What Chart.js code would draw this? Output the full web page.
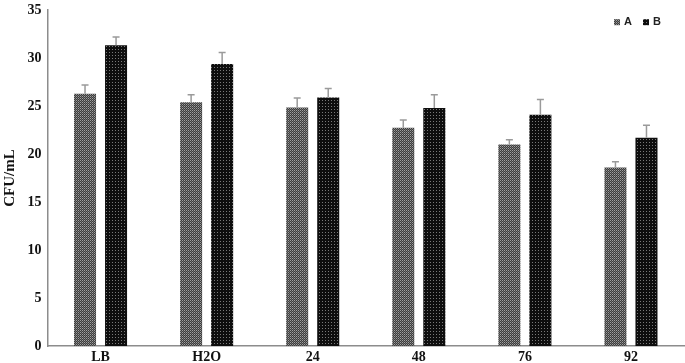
<!DOCTYPE html>
<html>
<head>
<meta charset="utf-8">
<script src="https://cdn.jsdelivr.net/npm/chart.js@4.4.0/dist/chart.umd.min.js"></script>
<style>
  body { margin: 0; background: #fff; }
  canvas { display: block; }
</style>
</head>
<body>
<canvas id="grafico" width="685" height="363"></canvas>
<script>
// Datos
const categorias = ['LB', 'H2O', '24', '48', '76', '92'];
const valoresA = [26.3, 25.4, 24.85, 22.75, 21.0, 18.6];
const valoresB = [31.35, 29.4, 25.9, 24.8, 24.1, 21.7];
const errorA = [0.9, 0.8, 1.0, 0.8, 0.5, 0.6];
const errorB = [0.85, 1.2, 0.95, 1.4, 1.6, 1.3];
const ticksY = [0, 5, 10, 15, 20, 25, 30, 35];

// Tramas de puntos para las barras
function crearTrama(tam, fondo, puntos) {
    const c = document.createElement('canvas');
    c.width = tam;
    c.height = tam;
    const g = c.getContext('2d');
    g.fillStyle = fondo;
    g.fillRect(0, 0, tam, tam);
    puntos.forEach(function(p) {
        g.fillStyle = p[2];
        g.fillRect(p[0], p[1], 1, 1);
    });
    return g.createPattern(c, 'repeat');
}

const tramaA = crearTrama(2, '#3c3c3c', [[0, 0, '#a0a0a0'], [1, 1, '#707070']]);
const tramaB = crearTrama(3, '#0e0e0e', [[1, 1, '#7a7a7a']]);

// Barras de error (solo hacia arriba)
const barrasError = {
    id: 'barrasError',
    afterDatasetsDraw: function(chart) {
        const ctx = chart.ctx;
        const y = chart.scales.y;
        chart.data.datasets.forEach(function(ds, i) {
            const meta = chart.getDatasetMeta(i);
            meta.data.forEach(function(barra, j) {
                const tope = y.getPixelForValue(ds.data[j] + ds.errores[j]);
                ctx.save();
                ctx.strokeStyle = '#9a9a9a';
                ctx.lineWidth = 1.5;
                ctx.beginPath();
                ctx.moveTo(barra.x, barra.y);
                ctx.lineTo(barra.x, tope);
                ctx.moveTo(barra.x - 3.5, tope);
                ctx.lineTo(barra.x + 3.5, tope);
                ctx.stroke();
                ctx.restore();
            });
        });
    }
};

// Leyenda pequeña arriba a la derecha, dentro del área del gráfico
const leyenda = {
    id: 'leyenda',
    afterDraw: function(chart) {
        const ctx = chart.ctx;
        const area = chart.chartArea;
        let x = area.right - 70;
        const y = area.top + 12;
        ctx.save();
        ctx.font = 'bold 11px "Liberation Sans"';
        ctx.textBaseline = 'middle';
        chart.data.datasets.forEach(function(ds) {
            ctx.fillStyle = ds.backgroundColor;
            ctx.fillRect(x, y - 3, 6, 6);
            ctx.fillStyle = '#222';
            ctx.fillText(ds.label, x + 10, y);
            x += 29;
        });
        ctx.restore();
    }
};

new Chart(document.getElementById('grafico').getContext('2d'), {
    type: 'bar',
    data: {
        labels: categorias,
        datasets: [{
            label: 'A',
            data: valoresA,
            errores: errorA,
            backgroundColor: tramaA,
            borderWidth: 0,
            barPercentage: 0.71,
            categoryPercentage: 0.585
        }, {
            label: 'B',
            data: valoresB,
            errores: errorB,
            backgroundColor: tramaB,
            borderWidth: 0,
            barPercentage: 0.71,
            categoryPercentage: 0.585
        }]
    },
    options: {
        responsive: false,
        animation: false,
        layout: { padding: { left: 2, right: 1, top: 0, bottom: -5 } },
        plugins: {
            legend: { display: false },
            tooltip: { enabled: false }
        },
        scales: {
            x: {
                grid: { display: false, drawTicks: false },
                border: { display: true, color: '#8c8c8c', width: 1.5 },
                ticks: {
                    padding: 4,
                    color: '#111',
                    font: { family: 'Liberation Serif', size: 14, weight: 'bold', lineHeight: 1 }
                }
            },
            y: {
                min: 0,
                max: 35,
                afterBuildTicks: function(axis) {
                    axis.ticks = ticksY.map(function(v) { return { value: v }; });
                },
                grid: { display: false, drawTicks: false },
                border: { display: true, color: '#8c8c8c', width: 1.5 },
                ticks: {
                    padding: 6,
                    color: '#111',
                    font: { family: 'Liberation Serif', size: 14, weight: 'bold', lineHeight: 0.6 }
                },
                title: {
                    display: true,
                    text: 'CFU/mL',
                    color: '#111',
                    padding: { top: 0, bottom: 3 },
                    font: { family: 'Liberation Serif', size: 15, weight: 'bold', lineHeight: 1.1 }
                }
            }
        }
    },
    plugins: [barrasError, leyenda]
});
</script>
</body>
</html>
